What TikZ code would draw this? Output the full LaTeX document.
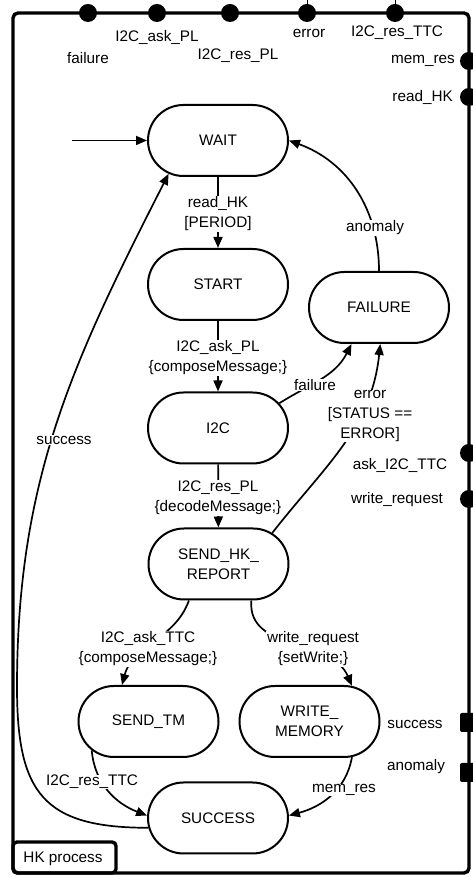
\documentclass[tikz,border=0pt]{standalone}
\usepackage{fontspec}
\setmainfont{Liberation Sans}
\usetikzlibrary{shapes.misc,arrows.meta}
\begin{document}
\begin{tikzpicture}[x=1pt,y=1pt,
  every node/.style={font=\fontsize{15.3}{20}\selectfont},
  state/.style={rounded rectangle, draw, line width=2pt, minimum width=140pt,
    minimum height=71pt, inner sep=0pt, align=center},
  trans/.style={line width=1.7pt, -{Triangle[length=11pt,width=9pt]}},
  lbl/.style={fill=white, inner sep=0.6pt, align=center},
  plabel/.style={inner sep=0pt},
  portdot/.style={circle, fill=black, minimum size=18pt, inner sep=0pt},
  portsq/.style={rectangle, rounded corners=2pt, fill=black, minimum width=18pt,
    minimum height=19pt, inner sep=0pt},
]
\useasboundingbox (0,0) rectangle (472,877);

% process frame
\draw[line width=3.4pt, rounded corners=5pt] (13,4) rectangle (469,864);
\node[draw, line width=3.4pt, rounded corners=4pt, minimum width=103pt,
  minimum height=31pt, inner sep=0pt] (hk) at (64.5,19.5) {};
\node (hktext) at (63,18) {HK process};

% port wires leaving the frame
\coordinate (wireA) at (307,877);
\coordinate (wireB) at (395,877);

% ports on the top edge
\node[portdot] (pFail) at (88,864) {};
\node[portdot] (pAskPL) at (157,864) {};
\node[portdot] (pResPL) at (230,864) {};
\node[portdot] (pErr) at (307,864) {};
\node[portdot] (pResTTC) at (395,864) {};
\draw[line width=1pt] (pErr.center) -- (wireA);
\draw[line width=1pt] (pResTTC.center) -- (wireB);

% ports on the right edge
\node[portdot] (pMem) at (469,816) {};
\node[portdot] (pRead) at (469,780) {};
\node[portdot] (pAskTTC) at (469,424) {};
\node[portdot] (pWrite) at (469,378) {};
\node[portsq] (pSucc) at (469,154.5) {};
\node[portsq] (pAnom) at (469,104.5) {};

% port names
\node[plabel] (tFail) at (88,819) {failure};
\node[plabel] (tAskPL) at (157,840) {I2C\_ask\_PL};
\node[plabel] (tResPL) at (238,821) {I2C\_res\_PL};
\node[plabel] (tErr) at (309,844) {error};
\node[plabel] (tResTTC) at (397,844) {I2C\_res\_TTC};
\node[plabel, anchor=east] (tMem) at (455,816) {mem\_res};
\node[plabel, anchor=east] (tRead) at (453,780) {read\_HK};
\node[plabel] (tAskTTC) at (400,412) {ask\_I2C\_TTC};
\node[plabel] (tWrite) at (397,377) {write\_request};
\node[plabel] (tSucc) at (415,153) {success};
\node[plabel] (tAnom) at (416,110) {anomaly};

% states
\node[state] (WAIT) at (218,736.5) {WAIT};
\node[state] (START) at (218,592.5) {START};
\node[state] (I2C) at (218,449) {I2C};
\node[state] (SEND) at (218.5,313) {SEND\_HK\_\\REPORT};
\node[state] (FAIL) at (379,569.5) {FAILURE};
\node[state] (TM) at (148.5,155.5) {SEND\_TM};
\node[state] (WMEM) at (309.5,155.5) {WRITE\_\\MEMORY};
\node[state] (SUCC) at (218,59) {SUCCESS};

% initial transition
\coordinate (init) at (72,736.5);
\draw[trans] (init) -- (WAIT.west);

% transitions
\draw[trans] (WAIT) -- (START);
\draw[trans] (START) -- (I2C);
\draw[trans] (I2C) -- (SEND);
\draw[trans] (I2C.22) to[out=32,in=-117] (FAIL.-127);
\draw[trans] (SEND.30) to[out=52,in=-96] (FAIL.-88);
\draw[trans] (FAIL.north) to[out=90,in=-20] (WAIT.east);
\draw[trans] (SUCC.188) to[out=180,in=-90,looseness=1.4] (17,190)
  to[out=90,in=-117] (WAIT.214);
\draw[trans] (SEND.-129) to[out=-110,in=75] (TM.126);
\draw[trans] (SEND.-48) to[out=-95,in=113] (WMEM.40);
\draw[trans] (TM.-153) to[out=-85,in=159] (SUCC.178);
\draw[trans] (WMEM.-40) to[out=-100,in=15] (SUCC.2);

% transition labels
\node[lbl] (lRead) at (218,663) {read\_HK\\ {}[PERIOD]};
\node[lbl] (lAskPL) at (218,519) {I2C\_ask\_PL\\ \{composeMessage;\}};
\node[lbl] (lResPL) at (218,379) {I2C\_res\_PL\\ \{decodeMessage;\}};
\node[lbl] (lFail) at (315,492) {failure};
\node[lbl] (lErr) at (370,461) {error\\ {}[STATUS ==\\ ERROR]};
\node[lbl] (lAnom) at (375,649) {anomaly};
\node[lbl] (lSucc) at (64,437) {success};
\node[lbl] (lAskTTC) at (148,228) {I2C\_ask\_TTC\\ \{composeMessage;\}};
\node[lbl] (lWrite) at (313,228) {write\_request\\ \{setWrite;\}};
\node[lbl] (lResTTC) at (92,95) {I2C\_res\_TTC};
\node[lbl] (lMem) at (344,87) {mem\_res};
\end{tikzpicture}
\end{document}
